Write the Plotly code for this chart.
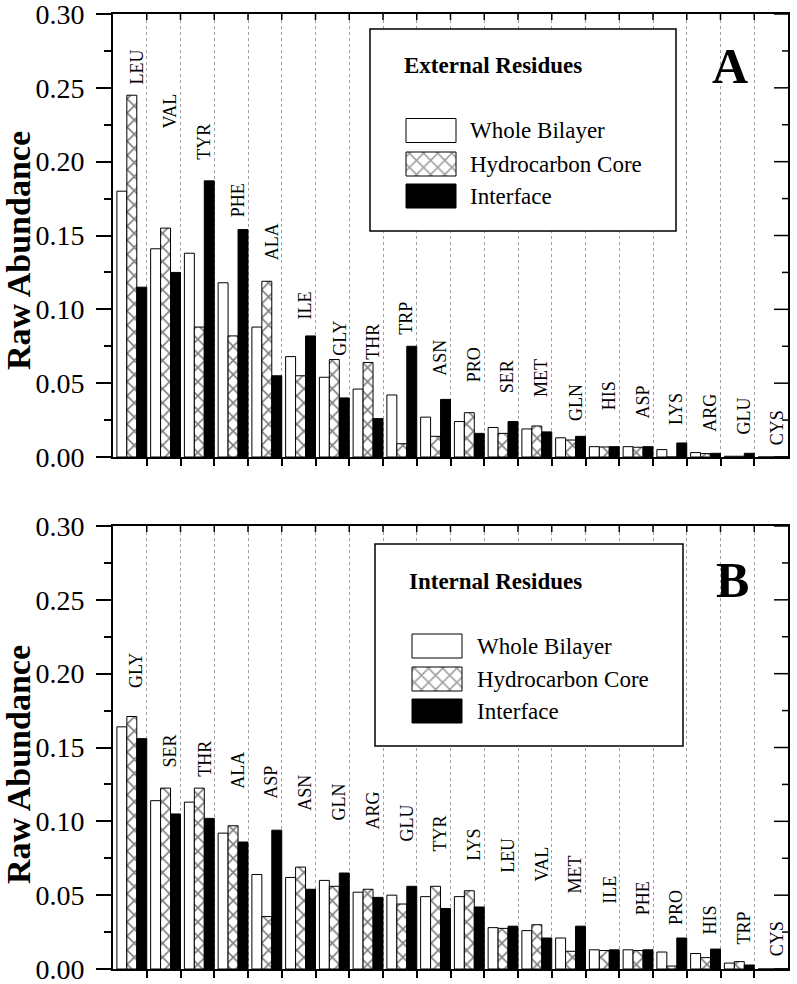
import plotly.graph_objects as go

# ---------------- data ----------------
cats_A = ['LEU', 'VAL', 'TYR', 'PHE', 'ALA', 'ILE', 'GLY', 'THR', 'TRP', 'ASN',
          'PRO', 'SER', 'MET', 'GLN', 'HIS', 'ASP', 'LYS', 'ARG', 'GLU', 'CYS']
whole_A = [0.180, 0.141, 0.138, 0.118, 0.088, 0.068, 0.054, 0.046, 0.042, 0.027,
           0.024, 0.020, 0.019, 0.013, 0.007, 0.007, 0.005, 0.003, 0.0005, 0.0]
core_A = [0.245, 0.155, 0.088, 0.082, 0.119, 0.055, 0.066, 0.064, 0.009, 0.014,
          0.030, 0.016, 0.021, 0.0115, 0.0068, 0.0066, 0.0, 0.0023, 0.0005, 0.0]
iface_A = [0.115, 0.125, 0.187, 0.154, 0.055, 0.082, 0.040, 0.026, 0.075, 0.039,
           0.016, 0.024, 0.017, 0.014, 0.007, 0.007, 0.0095, 0.0025, 0.0025, 0.0]

cats_B = ['GLY', 'SER', 'THR', 'ALA', 'ASP', 'ASN', 'GLN', 'ARG', 'GLU', 'TYR',
          'LYS', 'LEU', 'VAL', 'MET', 'ILE', 'PHE', 'PRO', 'HIS', 'TRP', 'CYS']
whole_B = [0.164, 0.114, 0.113, 0.092, 0.064, 0.062, 0.060, 0.052, 0.050, 0.049,
           0.049, 0.028, 0.026, 0.021, 0.013, 0.013, 0.0115, 0.0105, 0.004, 0.0]
core_B = [0.171, 0.1225, 0.1225, 0.097, 0.0355, 0.069, 0.056, 0.054, 0.044, 0.056,
          0.053, 0.0275, 0.030, 0.012, 0.0125, 0.0125, 0.002, 0.0077, 0.005, 0.0]
iface_B = [0.156, 0.105, 0.102, 0.086, 0.094, 0.054, 0.065, 0.0485, 0.056, 0.041,
           0.042, 0.029, 0.021, 0.029, 0.013, 0.013, 0.021, 0.0135, 0.0027, 0.0]

series_names = ['Whole Bilayer', 'Hydrocarbon Core', 'Interface']
y_ticks = [0.00, 0.05, 0.10, 0.15, 0.20, 0.25, 0.30]
y_minor = [0.025, 0.075, 0.125, 0.175, 0.225, 0.275]

# label placement (layout: base of each rotated residue label, in axis units)
label_base_A = [0.251, 0.221, 0.200, 0.161, 0.132, 0.092, 0.067, 0.0645, 0.0815, 0.054,
                0.049, 0.042, 0.039, 0.023, 0.030, 0.025, 0.020, 0.016, 0.0136, 0.0068]
label_base_B = [0.189, 0.135, 0.129, 0.121, 0.114, 0.106, 0.099, 0.093, 0.085, 0.0785,
                0.072, 0.064, 0.058, 0.050, 0.043, 0.035, 0.0285, 0.022, 0.015, 0.0075]

# ---------------- layout helpers ----------------
W, H = 797, 984
ML, MR, MT, MB = 113, 9, 14, 15
PW, PH = W - ML - MR, H - MT - MB
FONT = 'Liberation Serif, Times New Roman, serif'


def px_x(px):
    return (px - ML) / PW


def px_y(py):
    return (H - MB - py) / PH


fig = go.Figure()

bar_w = 0.295
offsets = [-0.385, -0.09, 0.205]
hatch = dict(shape='x', fgcolor='black', bgcolor='white', size=10, solidity=0.3)


def add_panel(cats, whole, core, iface, xa, ya):
    xs = list(range(len(cats)))
    fig.add_trace(go.Bar(x=xs, y=whole, name=series_names[0], width=bar_w, offset=offsets[0],
                         marker=dict(color='white', line=dict(color='black', width=1)),
                         xaxis=xa, yaxis=ya, showlegend=False))
    fig.add_trace(go.Bar(x=xs, y=core, name=series_names[1], width=bar_w, offset=offsets[1],
                         marker=dict(color='white', line=dict(color='black', width=1),
                                     pattern=hatch),
                         xaxis=xa, yaxis=ya, showlegend=False))
    fig.add_trace(go.Bar(x=xs, y=iface, name=series_names[2], width=bar_w, offset=offsets[2],
                         marker=dict(color='black', line=dict(color='black', width=1)),
                         xaxis=xa, yaxis=ya, showlegend=False))


add_panel(cats_A, whole_A, core_A, iface_A, 'x', 'y')
add_panel(cats_B, whole_B, core_B, iface_B, 'x2', 'y2')

# legend boxes: an auxiliary subplot per panel whose axes run in page pixels
legend_specs = [
    dict(box=(370, 676, 29, 231), sw_x=406, sw_y=(130.5, 164, 196), xa='x3', ya='y3'),
    dict(box=(375, 683, 544, 746), sw_x=412, sw_y=(646, 679, 711), xa='x4', ya='y4'),
]
for spec in legend_specs:
    l, r, t, b = spec['box']
    fig.add_trace(go.Bar(y=[(t + b) / 2], x=[r - l], base=[l], width=[b - t], orientation='h',
                         marker=dict(color='white', line=dict(color='black', width=1.5)),
                         xaxis=spec['xa'], yaxis=spec['ya'], showlegend=False, hoverinfo='skip'))
    fig.add_trace(go.Bar(y=list(spec['sw_y']), x=[50, 50, 50], base=[spec['sw_x']] * 3,
                         width=24, orientation='h',
                         marker=dict(color=['white', 'white', 'black'],
                                     line=dict(color='black', width=1),
                                     pattern=dict(shape=['', 'x', ''], fgcolor='black',
                                                  bgcolor='white', size=10, solidity=0.3)),
                         xaxis=spec['xa'], yaxis=spec['ya'], showlegend=False, hoverinfo='skip'))

n = len(cats_A)
bounds = [i + 0.5 for i in range(n - 1)]

dom_A = [px_y(457), px_y(14)]
dom_B = [px_y(969), px_y(526)]

common_x = dict(range=[-0.5, n - 0.5], tickmode='array', tickvals=bounds, showticklabels=False,
                ticks='outside', ticklen=7, tickwidth=1.5, tickcolor='black',
                showline=True, linewidth=2, linecolor='black', mirror=True,
                showgrid=True, gridcolor='#a0a0a0', gridwidth=1, griddash='dot',
                zeroline=False, domain=[0, 1], fixedrange=True, automargin=False)
common_y = dict(range=[0, 0.30], tickmode='array', tickvals=y_ticks, tickformat='.2f',
                ticks='outside', ticklen=15, tickwidth=1.5, tickcolor='black',
                ticklabelstandoff=6, ticklabeloverflow='allow',
                minor=dict(tickmode='array', tickvals=y_minor, ticks='outside',
                           ticklen=7, tickwidth=1.5, tickcolor='black', showgrid=False),
                tickfont=dict(family=FONT, size=28, color='black'),
                showline=True, linewidth=2, linecolor='black', mirror=True,
                showgrid=False, zeroline=False, fixedrange=True, automargin=False)
hidden = dict(visible=False, fixedrange=True, automargin=False)


def aux_axes(spec):
    l, r, t, b = spec['box']
    return (dict(hidden, range=[l - 3, r + 3], domain=[px_x(l - 3), px_x(r + 3)], anchor=spec['ya']),
            dict(hidden, range=[b + 3, t - 3], domain=[px_y(b + 3), px_y(t - 3)], anchor=spec['xa']))


ax3, ay3 = aux_axes(legend_specs[0])
ax4, ay4 = aux_axes(legend_specs[1])

fig.update_layout(
    width=W, height=H, autosize=False,
    margin=dict(l=ML, r=MR, t=MT, b=MB, pad=0, autoexpand=False),
    paper_bgcolor='white', plot_bgcolor='rgba(0,0,0,0)',
    barmode='overlay',
    font=dict(family=FONT, color='black'),
    xaxis=dict(common_x, anchor='y'),
    yaxis=dict(common_y, anchor='x', domain=dom_A),
    xaxis2=dict(common_x, anchor='y2'),
    yaxis2=dict(common_y, anchor='x2', domain=dom_B),
    xaxis3=ax3, yaxis3=ay3,
    xaxis4=ax4, yaxis4=ay4,
    showlegend=False,
)

# inward tick marks on the top and right frame edges (mirrored axis decoration)
shapes = []
for xr, yr, plot_h in (('x', 'y', 443), ('x2', 'y2', 443)):
    for b in bounds:
        shapes.append(dict(type='line', xref=xr, yref=yr + ' domain', x0=b, x1=b,
                           y0=1, y1=1 - 6 / plot_h, line=dict(color='black', width=1.5)))
    for t in y_ticks:
        shapes.append(dict(type='line', xref=xr + ' domain', yref=yr, x0=1 - 14 / PW, x1=1,
                           y0=t, y1=t, line=dict(color='black', width=1.5)))
    for t in y_minor:
        shapes.append(dict(type='line', xref=xr + ' domain', yref=yr, x0=1 - 6 / PW, x1=1,
                           y0=t, y1=t, line=dict(color='black', width=1.5)))

annotations = []

# residue labels
for cats, bases, xr, yr in ((cats_A, label_base_A, 'x', 'y'), (cats_B, label_base_B, 'x2', 'y2')):
    for i, (c, b) in enumerate(zip(cats, bases)):
        annotations.append(dict(x=i + 0.2, y=b, xref=xr, yref=yr, text=c, textangle=-90,
                                xanchor='center', yanchor='bottom', showarrow=False,
                                font=dict(family=FONT, size=18, color='black')))

# legend titles / entries / panel letters
for title, tx, ty, ex, eys, letter, lx, ly in (
        ('External Residues', 402, 65, 468, (130.5, 164, 196), 'A', 730, 66),
        ('Internal Residues', 407, 582, 475, (646, 679, 711), 'B', 732, 580)):
    annotations.append(dict(x=px_x(tx), y=px_y(ty), xref='paper', yref='paper',
                            text='<b>%s</b>' % title, xanchor='left', yanchor='middle',
                            showarrow=False, font=dict(family=FONT, size=23, color='black')))
    for name, ey in zip(series_names, eys):
        annotations.append(dict(x=px_x(ex), y=px_y(ey), xref='paper', yref='paper',
                                text=name, xanchor='left', yanchor='middle',
                                showarrow=False, font=dict(family=FONT, size=23, color='black')))
    annotations.append(dict(x=px_x(lx), y=px_y(ly), xref='paper', yref='paper',
                            text='<b>%s</b>' % letter, xanchor='center', yanchor='middle',
                            showarrow=False, font=dict(family=FONT, size=50, color='black')))

# y-axis titles
for cy in (251, 765):
    annotations.append(dict(x=px_x(18), y=px_y(cy), xref='paper', yref='paper',
                            text='<b>Raw Abundance</b>', textangle=-90,
                            xanchor='center', yanchor='middle', showarrow=False,
                            font=dict(family=FONT, size=34, color='black')))

fig.update_layout(shapes=shapes, annotations=annotations)

fig.write_html('out.html', config={'displayModeBar': False},
               post_script="document.body.style.margin='0';")
